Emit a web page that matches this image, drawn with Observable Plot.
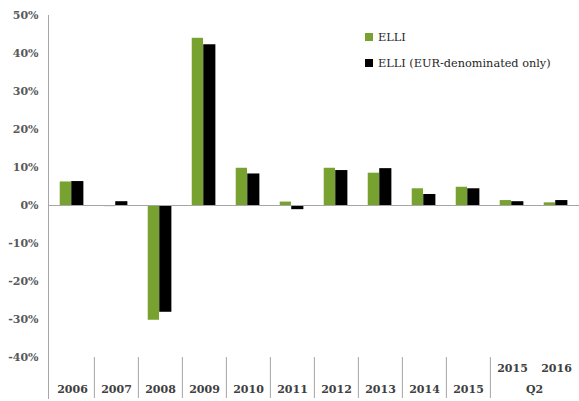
<!DOCTYPE html>
<html><head><meta charset="utf-8">
<script src="https://cdn.jsdelivr.net/npm/d3@7"></script>
<script src="https://cdn.jsdelivr.net/npm/@observablehq/plot@0.6"></script>
<style>
html,body{margin:0;padding:0;background:#fff;}
#wrap{position:relative;width:579px;height:401px;}
#wrap svg{display:block;}
.legend{position:absolute;left:365px;top:29px;font-family:"DejaVu Serif";font-size:11.3px;color:#262626;}
.legend .item{display:flex;align-items:center;height:16px;margin-bottom:10px;white-space:nowrap;}
.legend .sw{width:8px;height:8px;margin-right:5px;flex:none;}
</style></head><body><div id="wrap"></div>
<script>
const categories = ["2006","2007","2008","2009","2010","2011","2012","2013","2014","2015","2015 Q2","2016 Q2"];
const elli    = [6.2, -0.3, -30.2, 44.0, 9.8,  0.9, 9.8, 8.5, 4.4, 4.8, 1.3, 0.7];
const elliEur = [6.3,  1.0, -28.1, 42.3, 8.3, -1.1, 9.2, 9.7, 2.9, 4.4, 1.0, 1.3];
const yTicks = [-40, -30, -20, -10, 0, 10, 20, 30, 40, 50];
const bottomLabels = ["2006","2007","2008","2009","2010","2011","2012","2013","2014","2015",null,null];
const quarterLabels = [null,null,null,null,null,null,null,null,null,null,"2015","2016"];
const groupLabel = "Q2";
const seriesNames = ["ELLI", "ELLI (EUR-denominated only)"];
const colors = ["#77a22f", "#000000"];

const W = 579, H = 401, mL = 48, mR = 0, mT = 15, mB = 3, insetB = 41;
const bw = (W - mL - mR) / categories.length;
const yMin = yTicks[0], yMax = yTicks[yTicks.length - 1];
// data value at the bottom edge of the frame (below the inset)
const yFrameBottom = yMin - insetB * (yMax - yMin) / (H - mT - mB - insetB);

const rows = categories.map((c, i) => ({cat: c, elli: elli[i], eur: elliEur[i], lab: bottomLabels[i], q: quarterLabels[i]}));
const seps = categories.filter((c, i) => i > 0 && c !== "2016 Q2");

const chart = Plot.plot({
  width: W, height: H,
  marginLeft: mL, marginRight: mR, marginTop: mT, marginBottom: mB,
  style: {fontFamily: "DejaVu Serif", fontSize: "11px", color: "#595959", background: "#fff"},
  x: {domain: categories, padding: 0, axis: null},
  y: {domain: [yMin, yMax], insetBottom: insetB, axis: null},
  marks: [
    Plot.barY(rows, {x: "cat", y: "elli", fill: colors[0], insetLeft: bw * 0.22, insetRight: bw * 0.52}),
    Plot.barY(rows, {x: "cat", y: "eur", fill: colors[1], insetLeft: bw * 0.48, insetRight: bw * 0.24}),
    Plot.ruleY([0], {stroke: "#a6a6a6", strokeWidth: 1}),
    Plot.frame({anchor: "left", stroke: "#a6a6a6"}),
    Plot.ruleX(seps, {x: d => d, y1: yMin, y2: yFrameBottom, dx: -bw / 2, stroke: "#a6a6a6"}),
    Plot.axisY({ticks: yTicks, tickFormat: d => d + "%", tickSize: 0, tickPadding: 10, fill: "#595959", fontWeight: "bold", fontSize: 11}),
    Plot.text(rows.filter(d => d.lab), {x: "cat", text: "lab", frameAnchor: "bottom", dy: -6, fill: "#404040", fontWeight: "bold", fontSize: 11}),
    Plot.text(rows.filter(d => d.q), {x: "cat", text: "q", frameAnchor: "bottom", dy: -27, fill: "#404040", fontWeight: "bold", fontSize: 11}),
    Plot.text([groupLabel], {x: () => "2015 Q2", text: d => d, frameAnchor: "bottom", dy: -6, dx: bw / 2, fill: "#404040", fontWeight: "bold", fontSize: 11})
  ]
});
const wrap = document.getElementById("wrap");
wrap.appendChild(chart);
const leg = document.createElement("div");
leg.className = "legend";
seriesNames.forEach((n, i) => {
  const it = document.createElement("div"); it.className = "item";
  const sw = document.createElement("span"); sw.className = "sw"; sw.style.background = colors[i];
  const tx = document.createElement("span"); tx.textContent = n;
  it.appendChild(sw); it.appendChild(tx); leg.appendChild(it);
});
wrap.appendChild(leg);
</script></body></html>
